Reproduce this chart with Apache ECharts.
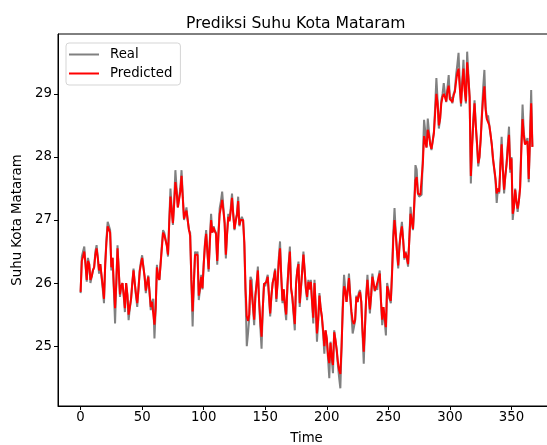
<!DOCTYPE html>
<html>
<head>
<meta charset="utf-8">
<script src="https://cdn.jsdelivr.net/npm/echarts@6/dist/echarts.min.js"></script>
<style>html,body{margin:0;padding:0;background:#fff;}#c{width:547px;height:445px;}</style>
</head>
<body>
<div id="c"></div>
<script>
const xTicks = [0, 50, 100, 150, 200, 250, 300, 350];
const yTicks = [25, 26, 27, 28, 29];
const seriesNames = ['Real', 'Predicted'];
const realValues = [25.84,26.42,26.45,26.58,26.3,26.02,26.4,26.3,26.0,26.1,
 26.2,26.25,26.5,26.6,26.4,26.15,26.3,26.3,25.9,25.68,
 26.3,26.7,26.97,26.95,26.84,26.2,26.4,25.9,25.36,26.0,
 26.6,26.2,25.78,25.95,26.0,25.8,25.54,26.0,25.8,25.41,
 25.6,25.75,26.0,26.23,26.0,25.8,25.62,25.9,26.2,26.34,
 26.44,26.45,26.1,25.84,26.0,26.12,26.15,25.57,25.7,25.75,
 25.12,25.6,26.29,26.1,26.05,26.32,26.6,26.84,26.8,26.79,
 26.6,26.42,27.0,27.5,27.2,26.92,27.3,27.79,27.5,27.2,
 27.19,27.5,27.79,27.4,27.0,27.1,27.2,27.0,26.84,26.8,
 26.0,25.31,26.0,26.5,26.45,26.5,25.73,25.9,26.13,25.9,
 26.3,26.63,26.84,26.5,26.18,26.7,27.1,26.8,26.9,26.84,
 26.8,26.29,26.8,27.19,27.3,27.45,27.2,26.95,26.39,26.8,
 27.1,27.0,27.2,27.42,27.1,26.84,27.0,27.1,27.37,26.9,
 27.0,27.05,27.0,26.6,25.8,25.0,25.2,25.45,26.1,26.05,
 25.6,25.33,25.8,26.0,26.26,25.7,25.3,24.96,25.6,26.0,
 25.95,26.05,26.13,25.8,25.47,25.8,26.0,26.1,26.23,25.7,
 26.0,26.4,26.66,26.1,25.68,25.9,25.6,25.41,25.95,26.3,
 26.58,25.9,25.76,25.5,25.25,26.0,26.2,26.34,25.62,25.6,
 26.2,26.5,26.2,25.9,25.73,26.05,25.9,26.05,25.7,25.36,
 26.05,25.6,25.07,25.4,25.84,25.6,25.45,25.2,24.88,25.25,
 25.1,24.8,24.49,25.07,24.8,24.57,25.25,25.1,24.94,24.7,
 24.5,24.33,25.0,25.7,26.13,25.9,25.7,25.9,26.15,25.8,
 25.5,25.2,25.3,25.4,25.8,25.7,25.85,25.89,25.7,25.2,
 24.72,25.3,25.8,26.13,25.8,25.52,25.8,26.15,26.0,25.87,
 25.95,25.89,26.1,26.2,25.7,25.33,25.62,25.4,25.17,26.0,
 25.9,25.75,25.68,26.2,26.8,27.19,26.8,26.5,26.23,26.6,
 26.8,26.97,26.7,26.37,26.5,26.4,26.26,26.7,27.21,27.0,
 26.84,27.2,27.87,27.8,27.42,27.37,27.4,27.4,28.0,28.59,
 28.4,28.15,28.61,28.4,28.2,28.11,28.25,28.4,28.8,29.25,
 28.9,28.45,28.6,28.9,29.0,29.17,29.0,28.87,29.1,29.3,
 28.9,28.95,28.85,29.0,29.06,29.3,29.46,29.65,29.2,28.8,
 29.2,29.54,29.1,28.85,29.67,29.3,28.95,27.58,28.2,28.6,
 28.9,28.5,28.2,27.85,28.0,28.3,28.7,29.1,29.38,28.8,
 28.61,28.66,28.5,28.35,28.2,27.95,27.8,27.63,27.27,27.5,
 27.42,27.9,28.32,27.8,27.42,27.7,27.9,28.2,28.48,27.75,
 28.0,27.0,27.2,27.5,27.3,27.13,27.3,27.52,28.2,28.83,
 28.4,28.2,28.25,28.3,27.6,28.3,29.06,28.16];
const predictedValues = [25.86,26.35,26.42,26.5,26.3,26.05,26.35,26.3,26.05,26.1,
 26.2,26.25,26.45,26.55,26.4,26.2,26.3,26.3,25.95,25.75,
 26.3,26.65,26.9,26.88,26.8,26.25,26.4,25.95,25.6,26.0,
 26.55,26.2,25.82,25.95,26.0,25.82,25.6,26.0,25.82,25.5,
 25.62,25.75,26.0,26.2,26.0,25.82,25.68,25.9,26.18,26.3,
 26.4,26.38,26.1,25.88,26.0,26.1,26.12,25.62,25.7,25.72,
 25.34,25.6,26.25,26.1,26.05,26.3,26.55,26.8,26.76,26.75,
 26.6,26.45,26.95,27.37,27.15,26.95,27.25,27.6,27.45,27.2,
 27.2,27.45,27.7,27.35,27.02,27.1,27.15,27.0,26.85,26.75,
 26.05,25.55,26.0,26.45,26.42,26.45,25.8,25.92,26.1,25.92,
 26.3,26.6,26.78,26.5,26.22,26.65,27.0,26.8,26.88,26.82,
 26.78,26.35,26.78,27.1,27.2,27.32,27.15,26.95,26.45,26.78,
 27.05,26.98,27.15,27.35,27.08,26.86,26.98,27.08,27.3,26.92,
 27.0,27.03,27.0,26.65,25.9,25.47,25.4,25.5,26.05,26.02,
 25.65,25.42,25.8,26.0,26.2,25.72,25.4,25.15,25.6,25.98,
 25.95,26.02,26.1,25.8,25.52,25.8,26.0,26.08,26.2,25.75,
 26.0,26.35,26.55,26.1,25.72,25.9,25.65,25.5,25.95,26.28,
 26.5,25.92,25.78,25.55,25.35,25.98,26.2,26.3,25.68,25.65,
 26.18,26.45,26.2,25.92,25.78,26.02,25.9,26.02,25.72,25.45,
 26.0,25.62,25.2,25.42,25.8,25.6,25.47,25.25,25.0,25.25,
 25.12,24.85,24.73,25.05,24.82,24.7,25.22,25.1,24.95,24.75,
 24.62,24.56,25.0,25.6,25.95,25.88,25.7,25.88,26.08,25.8,
 25.55,25.4,25.35,25.42,25.78,25.7,25.82,25.86,25.7,25.25,
 24.91,25.3,25.78,26.05,25.8,25.58,25.8,26.1,26.0,25.88,
 25.93,25.9,26.08,26.15,25.72,25.42,25.62,25.45,25.3,25.95,
 25.88,25.76,25.72,26.15,26.7,27.0,26.78,26.5,26.28,26.58,
 26.78,26.9,26.68,26.4,26.48,26.4,26.3,26.68,27.1,26.98,
 26.86,27.25,27.63,27.68,27.42,27.4,27.4,27.42,27.9,28.33,
 28.3,28.15,28.43,28.35,28.2,28.13,28.25,28.38,28.7,29.0,
 28.85,28.5,28.6,28.85,28.95,29.0,28.95,28.88,29.05,29.13,
 28.92,28.95,28.87,28.98,29.03,29.2,29.33,29.4,29.1,28.85,
 29.15,29.4,29.05,28.88,29.5,29.25,28.95,27.7,28.15,28.55,
 28.85,28.5,28.22,27.9,28.0,28.28,28.65,28.95,29.12,28.75,
 28.6,28.62,28.5,28.36,28.2,27.98,27.82,27.66,27.42,27.5,
 27.45,27.85,28.2,27.8,27.48,27.7,27.88,28.15,28.35,27.8,
 27.98,27.1,27.2,27.48,27.3,27.18,27.3,27.5,28.1,28.6,
 28.35,28.2,28.22,28.25,27.65,28.25,28.85,28.16];

const FONT = 'DejaVu Sans';
const chart = echarts.init(document.getElementById('c'), null, {renderer: 'canvas'});
const toPairs = arr => arr.map((v, i) => [i, v]);

chart.setOption({
  animation: false,
  backgroundColor: '#fff',
  title: {
    text: 'Prediksi Suhu Kota Mataram',
    left: 181, top: 11,
    textStyle: {fontFamily: FONT, fontSize: 15.6, fontWeight: 'normal', color: '#000'}
  },
  legend: {
    orient: 'vertical',
    left: 66, top: 43,
    padding: [5, 8, 5, 3],
    itemGap: 6,
    itemWidth: 30, itemHeight: 2,
    borderColor: '#d5d5d5', borderWidth: 1, borderRadius: 3,
    backgroundColor: '#fff',
    textStyle: {fontFamily: FONT, fontSize: 13.3, color: '#000', padding: [0, 0, 0, 6]},
    data: [{name: seriesNames[0], icon: 'rect'}, {name: seriesNames[1], icon: 'rect'}]
  },
  grid: {
    left: 58, top: 34, right: -8, bottom: 39,
    outerBoundsMode: 'none',
    containLabel: false,
    show: true, borderColor: '#000', borderWidth: 1, backgroundColor: 'transparent'
  },
  xAxis: {
    type: 'value', min: -18.35, max: 385.35,
    name: 'Time', nameLocation: 'middle', nameGap: 26,
    nameTextStyle: {fontFamily: FONT, fontSize: 13.3, color: '#000'},
    axisLine: {show: true, onZero: false, lineStyle: {color: '#000', width: 1}},
    axisTick: {show: true, length: 4, customValues: xTicks, lineStyle: {color: '#000'}},
    axisLabel: {customValues: xTicks, fontFamily: FONT, fontSize: 13.3, color: '#000', margin: 5},
    splitLine: {show: false}
  },
  yAxis: {
    type: 'value', min: 24.05, max: 29.95,
    name: 'Suhu Kota Mataram', nameLocation: 'middle', nameGap: 33,
    nameTextStyle: {fontFamily: FONT, fontSize: 13.3, color: '#000'},
    axisLine: {show: true, onZero: false, lineStyle: {color: '#000', width: 1}},
    axisTick: {show: true, length: 4, customValues: yTicks, lineStyle: {color: '#000'}},
    axisLabel: {customValues: yTicks, fontFamily: FONT, fontSize: 13.3, color: '#000', margin: 6},
    splitLine: {show: false}
  },
  series: [
    {name: seriesNames[0], type: 'line', data: toPairs(realValues), showSymbol: false,
     lineStyle: {color: '#808080', width: 2}, itemStyle: {color: '#808080'}},
    {name: seriesNames[1], type: 'line', data: toPairs(predictedValues), showSymbol: false,
     lineStyle: {color: '#ff0000', width: 2}, itemStyle: {color: '#ff0000'}}
  ]
});
</script>
</body>
</html>
